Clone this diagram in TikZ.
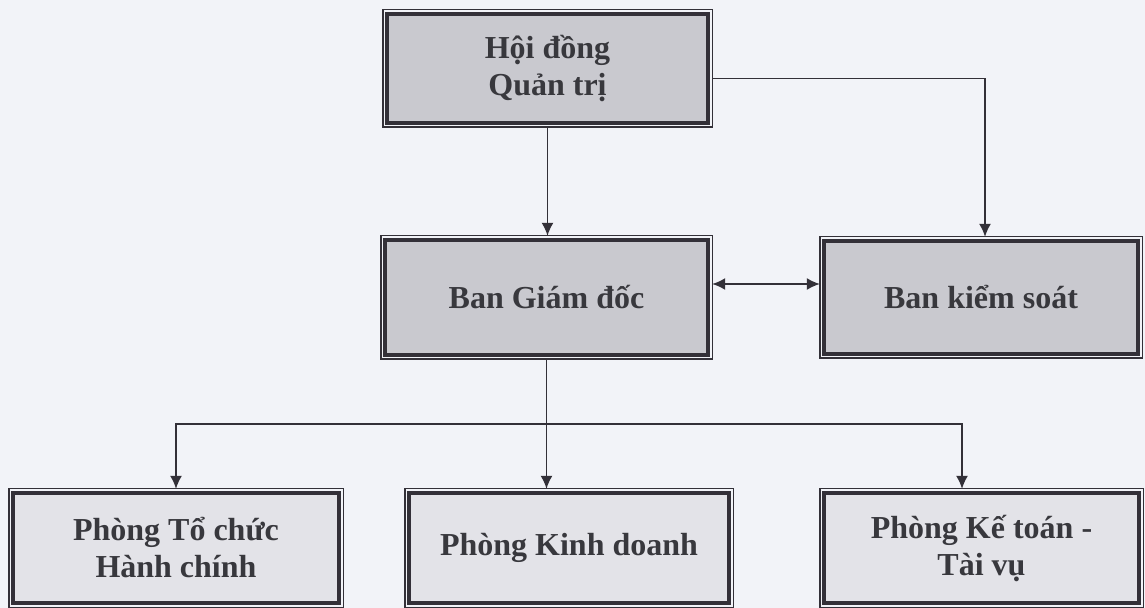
\documentclass[tikz,border=0pt]{standalone}
\usepackage{fontspec}
\setmainfont{Liberation Serif}
\usetikzlibrary{arrows.meta,calc}
\definecolor{PaperClr}{rgb}{0.949,0.953,0.973}
\definecolor{LineClr}{rgb}{0.2,0.19,0.22}
\definecolor{TopClr}{rgb}{0.79,0.79,0.81}
\definecolor{LowClr}{rgb}{0.89,0.89,0.91}
\definecolor{TextClr}{rgb}{0.22,0.22,0.24}

\begin{document}
\begin{tikzpicture}[x=0.5pt,y=-0.5pt,>={Latex[length=6.5pt,width=6pt]},
  unit/.style={draw=LineClr,line width=1.7pt,fill=TopClr,outer sep=2.1pt,
    align=center,text=TextClr,font=\bfseries\fontsize{16}{18.5}\selectfont},
  lowunit/.style={unit,fill=LowClr,minimum height=55pt},
  frame/.style={draw=LineClr,line width=0.7pt},
  link/.style={draw=LineClr,line width=0.75pt}]

\fill[PaperClr] (0,0) rectangle (1145,608);
\useasboundingbox (0,0) rectangle (1145,608);

\node[unit,minimum width=160.5pt,minimum height=54.5pt] (hdqt) at (547.5,68.5) {Hội đồng\\Quản trị};
\node[unit,minimum width=161.5pt,minimum height=57.5pt] (bgd) at (546.5,297.5) {Ban Giám đốc};
\node[unit,minimum width=157pt,minimum height=56.5pt] (bks) at (981,297.5) {Ban kiểm soát};

\node[lowunit,minimum width=163pt] (tchc) at (176,548) {Phòng Tổ chức\\Hành chính};
\node[lowunit,minimum width=160pt] (kd) at (569,548) {Phòng Kinh doanh};
\node[lowunit,minimum width=157.5pt] (kt) at (981.5,548) {Phòng Kế toán -\\Tài vụ};

\foreach \n in {hdqt,bgd,bks,tchc,kd,kt}
  \draw[frame] (\n.south west) rectangle (\n.north east);

\coordinate (busy) at (0,424);

\draw[link,->] (hdqt.south) -- (hdqt.south |- bgd.north);
\draw[link,->] ([yshift=-5pt]hdqt.east) -| ([xshift=2pt]bks.north);
\draw[link,<->] ([yshift=6.75pt]bgd.east) -- ([yshift=6.75pt]bks.west);

\draw[link] (bgd.south) -- (bgd.south |- busy);
\draw[link,->] (bgd.south |- busy) -| (tchc.north);
\draw[link,->] (bgd.south |- busy) -- (bgd.south |- kd.north);
\draw[link,->] (bgd.south |- busy) -| ([xshift=-9.75pt]kt.north);

\end{tikzpicture}
\end{document}
